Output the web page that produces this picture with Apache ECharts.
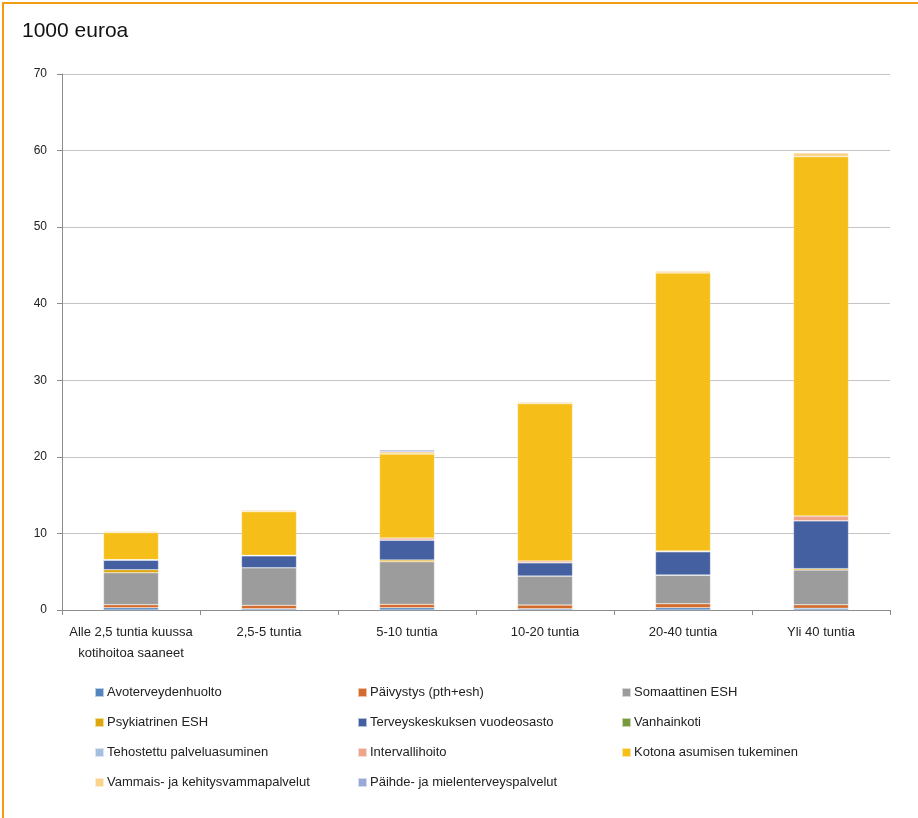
<!DOCTYPE html>
<html>
<head>
<meta charset="utf-8">
<script src="https://cdn.jsdelivr.net/npm/echarts@6/dist/echarts.min.js"></script>
<style>
html,body{margin:0;padding:0;background:#fff;}
#chart{width:918px;height:818px;}
</style>
</head>
<body>
<div id="chart"></div>
<script>
var categories = ['Alle 2,5 tuntia kuussa\nkotihoitoa saaneet', '2,5-5 tuntia', '5-10 tuntia', '10-20 tuntia', '20-40 tuntia', 'Yli 40 tuntia'];
var yTicks = [0, 10, 20, 30, 40, 50, 60, 70];

var avoterveydenhuolto = [0.30, 0.17, 0.30, 0.15, 0.30, 0.22];
var paivystys = [0.39, 0.44, 0.44, 0.50, 0.52, 0.47];
var somaattinen = [4.18, 4.91, 5.57, 3.79, 3.71, 4.53];
var psykiatrinen = [0.39, 0, 0.22, 0, 0.05, 0.18];
var terveyskeskus = [1.27, 1.57, 2.61, 1.74, 3.04, 6.26];
var vanhainkoti = [0, 0, 0, 0, 0, 0];
var tehostettu = [0, 0, 0, 0, 0, 0];
var intervallihoito = [0.05, 0.05, 0.26, 0.22, 0.10, 0.61];
var kotona = [3.52, 5.70, 10.97, 20.54, 36.29, 46.93];
var vammais = [0.20, 0.22, 0.30, 0.22, 0.26, 0.50];
var paihde = [0, 0, 0.23, 0, 0, 0];

var seriesDefs = [
  ['Avoterveydenhuolto', avoterveydenhuolto, '#5386BE'],
  ['Päivystys (pth+esh)', paivystys, '#D36B2C'],
  ['Somaattinen ESH', somaattinen, '#9C9C9C'],
  ['Psykiatrinen ESH', psykiatrinen, '#DDA60A'],
  ['Terveyskeskuksen vuodeosasto', terveyskeskus, '#4560A0'],
  ['Vanhainkoti', vanhainkoti, '#789A3F'],
  ['Tehostettu palveluasuminen', tehostettu, '#A3C0E2'],
  ['Intervallihoito', intervallihoito, '#EDA58C'],
  ['Kotona asumisen tukeminen', kotona, '#F5BE18'],
  ['Vammais- ja kehitysvammapalvelut', vammais, '#FAD48C'],
  ['Päihde- ja mielenterveyspalvelut', paihde, '#9AA8D6']
];

var legendCols = [
  ['Avoterveydenhuolto', 'Psykiatrinen ESH', 'Tehostettu palveluasuminen', 'Vammais- ja kehitysvammapalvelut'],
  ['Päivystys (pth+esh)', 'Terveyskeskuksen vuodeosasto', 'Intervallihoito', 'Päihde- ja mielenterveyspalvelut'],
  ['Somaattinen ESH', 'Vanhainkoti', 'Kotona asumisen tukeminen']
];
var legendLefts = [89, 352, 616];

var font = '"Liberation Sans", Arial, sans-serif';

var chart = echarts.init(document.getElementById('chart'), null, {renderer: 'canvas'});

var series = seriesDefs.map(function (d) {
  return {
    name: d[0],
    type: 'bar',
    stack: 'total',
    data: d[1],
    barWidth: 55,
    itemStyle: {color: d[2], borderColor: 'rgba(255,255,255,0.6)', borderWidth: 0.5},
    emphasis: {disabled: true}
  };
});

var legends = legendCols.map(function (col, i) {
  return {
    data: col,
    orient: 'vertical',
    left: legendLefts[i],
    top: 681,
    itemWidth: 9,
    itemHeight: 9,
    itemGap: 17,
    icon: 'rect',
    textStyle: {fontFamily: font, fontSize: 13, color: '#222', padding: [0, 0, 0, -2]},
    selectedMode: false
  };
});

chart.setOption({
  animation: false,
  backgroundColor: '#fff',
  graphic: [
    {type: 'rect', shape: {x: 3, y: 3, width: 1000, height: 1000}, style: {fill: 'none', stroke: '#F39C12', lineWidth: 2}, z: 100},
    {type: 'text', left: 22, top: 21, style: {text: '1000 euroa', font: '21px ' + font, fill: '#111'}}
  ],
  legend: legends,
  grid: {left: 62, right: 28, top: 74, bottom: 208, containLabel: false},
  xAxis: {
    type: 'category',
    data: categories,
    axisLine: {lineStyle: {color: '#8c8c8c', width: 1}},
    axisTick: {show: true, alignWithLabel: false, length: 5, lineStyle: {color: '#8c8c8c'}},
    axisLabel: {fontFamily: font, fontSize: 13, color: '#222', margin: 12, lineHeight: 21, interval: 0}
  },
  yAxis: {
    type: 'value',
    min: 0,
    max: 70,
    interval: 10,
    axisLine: {show: true, lineStyle: {color: '#8c8c8c', width: 1}},
    axisTick: {show: true, length: 5, lineStyle: {color: '#8c8c8c'}},
    axisLabel: {fontFamily: font, fontSize: 12, color: '#222', margin: 15,
      formatter: function (v) { return yTicks.indexOf(v) >= 0 ? String(v) : ''; }},
    splitLine: {show: true, lineStyle: {color: '#c4c4c4', width: 1}}
  },
  series: series
});
</script>
</body>
</html>
